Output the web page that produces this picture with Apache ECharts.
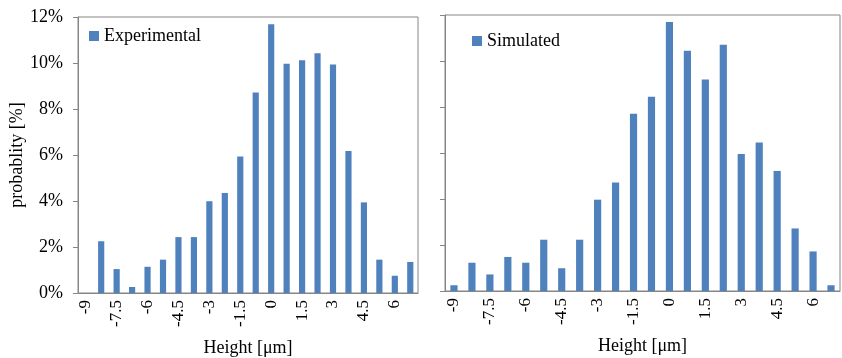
<!DOCTYPE html>
<html><head><meta charset="utf-8">
<script src="https://cdn.jsdelivr.net/npm/echarts@6/dist/echarts.min.js"></script>
<style>html,body{margin:0;padding:0;background:#fff}#c{width:842px;height:358px}</style>
</head><body><div id="c"></div>
<script>
const categories = ["-9","-8.25","-7.5","-6.75","-6","-5.25","-4.5","-3.75","-3","-2.25","-1.5","-0.75","0","0.75","1.5","2.25","3","3.75","4.5","5.25","6","6.75"];
const experimental = [0,2.25,1.04,0.26,1.14,1.45,2.43,2.43,3.99,4.35,5.94,8.72,11.68,9.97,10.12,10.42,9.93,6.17,3.94,1.45,0.75,1.35];
const simulated = [0.25,1.23,0.72,1.48,1.23,2.23,0.99,2.23,3.97,4.72,7.71,8.45,11.70,10.45,9.20,10.71,5.96,6.46,5.22,2.72,1.72,0.25];
const yTicks = [0,2,4,6,8,10,12];

const font = 'Liberation Serif';
const axisColor = '#868686';
const barColor = '#4F81BD';

function xAxis(idx){
  return {
    type:'category', gridIndex:idx, data:categories, boundaryGap:true,
    axisLine:{lineStyle:{color:axisColor}},
    axisTick:{interval:0, length:5, lineStyle:{color:axisColor}},
    axisLabel:{interval:1, rotate:90, margin:7, color:'#000', fontFamily:font, fontSize:17},
    name:'Height [μm]', nameLocation:'middle', nameGap:46,
    nameTextStyle:{color:'#000', fontFamily:font, fontSize:18}
  };
}
function yAxis(idx, showLabel){
  const a = {
    type:'value', gridIndex:idx, min:yTicks[0], max:yTicks[yTicks.length-1], interval:2,
    axisLine:{show:true, lineStyle:{color:axisColor}},
    axisTick:{show:true, length:5, lineStyle:{color:axisColor}},
    splitLine:{show:false},
    axisLabel:{show:showLabel, margin:15, color:'#000', fontFamily:font, fontSize:18, formatter:v=>v+'%'}
  };
  if(showLabel){
    a.name='probablity [%]'; a.nameLocation='middle'; a.nameGap=52;
    a.nameTextStyle={color:'#000', fontFamily:font, fontSize:18};
  }
  return a;
}
const chart = echarts.init(document.getElementById('c'));
chart.setOption({
  animation:false,
  grid:[
    {left:78, top:17, width:340, height:276, show:true, borderColor:axisColor, borderWidth:1, backgroundColor:'#fff', outerBoundsMode:'none', containLabel:false},
    {left:445, top:15, width:395, height:276, show:true, borderColor:axisColor, borderWidth:1, backgroundColor:'#fff', outerBoundsMode:'none', containLabel:false}
  ],
  legend:[
    {data:['Experimental'], left:84, top:22, itemWidth:10, itemHeight:10, icon:'rect', itemGap:5,
     textStyle:{fontFamily:font, fontSize:18, color:'#000'}},
    {data:['Simulated'], left:467, top:27, itemWidth:10, itemHeight:10, icon:'rect', itemGap:5,
     textStyle:{fontFamily:font, fontSize:18, color:'#000'}}
  ],
  xAxis:[xAxis(0), xAxis(1)],
  yAxis:[yAxis(0,true), yAxis(1,false)],
  series:[
    {name:'Experimental', type:'bar', xAxisIndex:0, yAxisIndex:0, data:experimental, barWidth:'40%',
     itemStyle:{color:barColor}},
    {name:'Simulated', type:'bar', xAxisIndex:1, yAxisIndex:1, data:simulated, barWidth:'40%',
     itemStyle:{color:barColor}}
  ]
});
</script></body></html>
